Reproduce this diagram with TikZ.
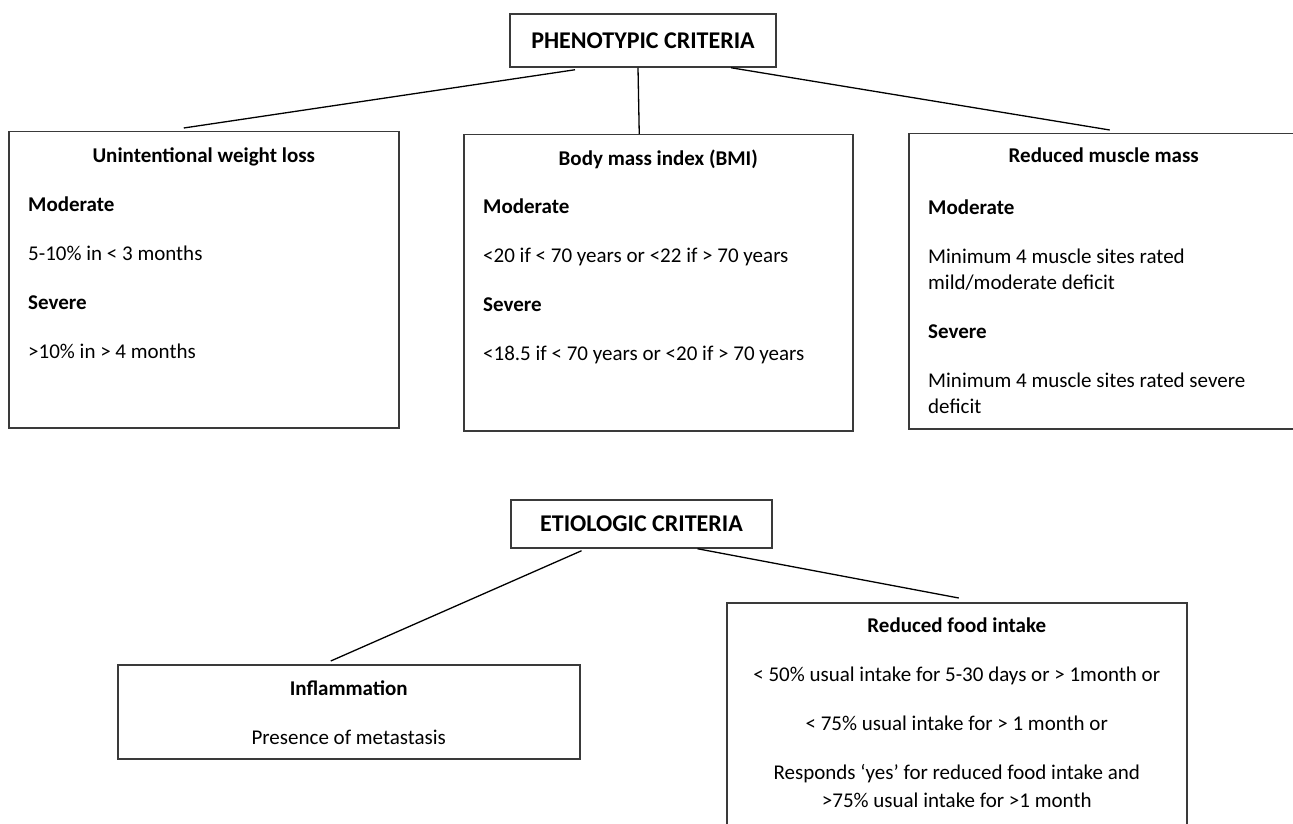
\documentclass[tikz,border=0pt]{standalone}
\usepackage{fontspec}
\setmainfont{Carlito}
\usetikzlibrary{positioning}
\definecolor{FrameGray}{HTML}{3A3A3A}

\begin{document}
\begin{tikzpicture}[x=1pt, y=-1pt,
        % Estilo para cabecera
        headbox/.style={
                rectangle,
                draw=FrameGray,
                line width=1.5pt,
                inner sep=0pt,
                font=\bfseries\fontsize{24}{28}\selectfont
            },
        % Caja de criterio
        critbox/.style={
                rectangle,
                draw=FrameGray,
                line width=1.5pt,
                inner sep=0pt,
                anchor=north west
            },
        % Textos (base = ultima linea)
        titletext/.style={
                inner sep=0pt,
                anchor=base,
                font=\bfseries\fontsize{21}{26}\selectfont
            },
        bodytext/.style={
                inner sep=0pt,
                align=left,
                anchor=base west,
                font=\fontsize{21}{26}\selectfont
            },
        centertext/.style={
                inner sep=0pt,
                align=center,
                anchor=base,
                font=\fontsize{21}{28}\selectfont
            },
        link/.style={
                line width=1.3pt,
                black
            }
    ]

    \useasboundingbox (0,0) rectangle (1293,824);

    % FENOTIPICOS
    \node[headbox, minimum width=266pt, minimum height=53pt] (pheno) at (643,40.5) {PHENOTYPIC CRITERIA};

    \node[critbox, minimum width=390pt, minimum height=296pt] (wl) at (8,131) {};
    \node[critbox, minimum width=389pt, minimum height=296pt] (bmi) at (463,134) {};
    \node[critbox, minimum width=390pt, minimum height=295pt] (mm) at (908,133) {};

    \node[titletext] (wlT) at ([yshift=-31pt]wl.north) {Unintentional weight loss};
    \node[bodytext] (wlB) at ([xshift=20pt, yshift=-227pt]wl.north west) {
        \textbf{Moderate}\\[23pt]
        5-10\% in < 3 months\\[23pt]
        \textbf{Severe}\\[23pt]
        >10\% in > 4 months
    };

    \node[titletext] (bmiT) at ([yshift=-31pt]bmi.north) {Body mass index (BMI)};
    \node[bodytext] (bmiB) at ([xshift=20pt, yshift=-226pt]bmi.north west) {
        \textbf{Moderate}\\[23pt]
        <20 if < 70 years or <22 if > 70 years\\[23pt]
        \textbf{Severe}\\[23pt]
        <18.5 if < 70 years or <20 if > 70 years
    };

    \node[titletext] (mmT) at ([yshift=-30pt]mm.north) {Reduced muscle mass};
    \node[bodytext] (mmB) at ([xshift=20pt, yshift=-280pt]mm.north west) {
        \textbf{Moderate}\\[23pt]
        Minimum 4 muscle sites rated\\
        mild/moderate deficit\\[23pt]
        \textbf{Severe}\\[23pt]
        Minimum 4 muscle sites rated severe\\
        deficit
    };

    \draw[link] ([xshift=-68pt, yshift=-2pt]pheno.south) -- ([xshift=-20pt, yshift=3pt]wl.north);
    \draw[link] ([xshift=-5pt]pheno.south) -- ([xshift=-19pt]bmi.north);
    \draw[link] ([xshift=88pt]pheno.south) -- ([xshift=6pt, yshift=3pt]mm.north);

    % ETIOLOGICOS
    \node[headbox, minimum width=261pt, minimum height=48pt] (etio) at (641.5,524) {ETIOLOGIC CRITERIA};

    \node[critbox, minimum width=462pt, minimum height=94pt] (infl) at (117,664) {};
    \node[critbox, minimum width=460pt, minimum height=260pt] (food) at (726,602) {};

    \node[centertext] (inflT) at ([yshift=-80pt]infl.north) {
        \textbf{Inflammation}\\[21pt]
        Presence of metastasis
    };
    \node[centertext] (foodT) at ([yshift=-205pt]food.north) {
        \textbf{Reduced food intake}\\[21pt]
        < 50\% usual intake for 5-30 days or > 1month or\\[21pt]
        < 75\% usual intake for > 1 month or\\[21pt]
        Responds ‘yes’ for reduced food intake and\\
        >75\% usual intake for >1 month
    };

    \draw[link] ([xshift=-60pt, yshift=-2pt]etio.south) -- ([xshift=-18pt, yshift=3pt]infl.north);
    \draw[link] ([xshift=56pt]etio.south) -- ([xshift=2pt, yshift=4pt]food.north);

\end{tikzpicture}
\end{document}
